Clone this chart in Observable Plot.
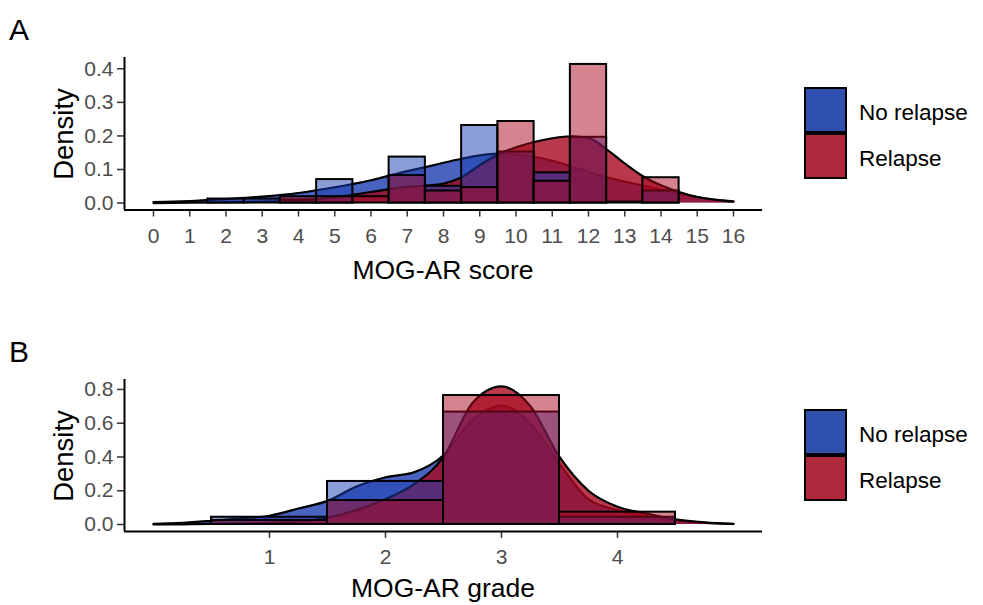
<!DOCTYPE html>
<html>
<head>
<meta charset="utf-8">
<script src="https://cdn.jsdelivr.net/npm/d3@7"></script>
<script src="https://cdn.jsdelivr.net/npm/@observablehq/plot@0.6"></script>
<style>
  body { margin: 0; background: #fff; }
  #wrap { position: relative; width: 983px; height: 605px; background: #fff; font-family: "Liberation Sans", Arial, sans-serif; }
  #wrap > svg.panel { position: absolute; left: 0; }
  #wrap > svg.panel text { font-size: 21px !important; font-family: "Liberation Sans", Arial, sans-serif; }
  #overlay { position: absolute; left: 0; top: 0; }
</style>
</head>
<body>
<div id="wrap"></div>
<script>
// ---------- DATA ----------
const groups = ["No relapse", "Relapse"];

// Panel A: MOG-AR score histogram (binwidth 1, density)
const scoreBins       = [2, 3, 4, 5, 6, 7, 8, 9, 10, 11, 12, 13, 14];
const scoreNoRelapse  = [0.012, 0.012, 0.009, 0.070, 0, 0.137, 0.050, 0.231, 0.152, 0.090, 0.196, 0, 0.036];
const scoreRelapse    = [0, 0, 0.019, 0.019, 0.019, 0.082, 0.036, 0.046, 0.243, 0.065, 0.413, 0.003, 0.0755];

// Panel A: kernel density curves
const scoreDensX          = [0, 1, 2, 3, 4, 5, 6, 7, 7.5, 8, 8.5, 9, 9.5, 10, 10.5, 11, 11.5, 12, 12.5, 13, 13.5, 14, 14.5, 15, 15.5, 16];
const scoreDensNoRelapse  = [0.003, 0.006, 0.012, 0.019, 0.030, 0.047, 0.068, 0.095, 0.107, 0.120, 0.132, 0.142, 0.147, 0.145, 0.138, 0.126, 0.110, 0.093, 0.077, 0.064, 0.052, 0.040, 0.029, 0.018, 0.009, 0.004];
const scoreDensRelapse    = [0.000, 0.001, 0.002, 0.004, 0.008, 0.017, 0.033, 0.048, 0.052, 0.058, 0.077, 0.113, 0.145, 0.166, 0.182, 0.193, 0.199, 0.194, 0.160, 0.118, 0.080, 0.053, 0.033, 0.018, 0.010, 0.005];

const scoreTicks   = [0, 1, 2, 3, 4, 5, 6, 7, 8, 9, 10, 11, 12, 13, 14, 15, 16];
const scoreYTicks  = [0, 0.1, 0.2, 0.3, 0.4];

// Panel B: MOG-AR grade histogram
const gradeBins       = [1, 2, 3, 4];
const gradeNoRelapse  = [0.043, 0.255, 0.666, 0.043];
const gradeRelapse    = [0.024, 0.142, 0.764, 0.073];

const gradeDensX          = [0, 0.25, 0.5, 0.75, 1, 1.25, 1.5, 1.75, 2, 2.25, 2.5, 2.75, 3, 3.25, 3.5, 3.75, 4, 4.25, 4.5, 4.75, 5];
const gradeDensNoRelapse  = [0.004, 0.010, 0.022, 0.036, 0.052, 0.095, 0.140, 0.225, 0.280, 0.310, 0.410, 0.620, 0.705, 0.600, 0.360, 0.150, 0.085, 0.048, 0.024, 0.010, 0.004];
const gradeDensRelapse    = [0.000, 0.001, 0.003, 0.005, 0.009, 0.018, 0.040, 0.085, 0.150, 0.240, 0.400, 0.720, 0.818, 0.700, 0.400, 0.200, 0.105, 0.065, 0.030, 0.012, 0.003];

const gradeTicks  = [1, 2, 3, 4];
const gradeYTicks = [0, 0.2, 0.4, 0.6, 0.8];

// ---------- STYLE ----------
const baseColors   = ["#1a3db0", "#a9071f"];
const legendColors = ["#3050b0", "#b0283c"];
const FONT = "Liberation Sans, Arial, sans-serif";

function expand(lo, hi) { const r = hi - lo; return [lo - 0.05 * r, hi + 0.05 * r]; }

function panel({bins, noRel, rel, densX, densNo, densRel, xRange, yMax, xTicks, yTicks, height, marginTop, marginBottom}) {
  const xDomain = expand(xRange[0], xRange[1]);
  const yDomain = expand(0, yMax);
  const hist = (vals) => bins.map((b, i) => ({x1: b - 0.5, x2: b + 0.5, y: vals[i]}));
  const dens = (vals) => densX.map((x, i) => ({x, y: vals[i]}));
  const svg = Plot.plot({
    width: 983, height,
    marginLeft: 124, marginRight: 221, marginTop, marginBottom,
    style: {fontFamily: FONT, fontSize: "21px", background: "transparent", overflow: "visible"},
    x: {domain: xDomain},
    y: {domain: yDomain},
    marks: [
      Plot.area(dens(densNo),  {x1: "x", y1: 0, y2: "y", fill: baseColors[0], fillOpacity: 0.8, curve: "monotone-x"}),
      Plot.line(dens(densNo),  {x: "x", y: "y", stroke: "black", strokeWidth: 2.2, curve: "monotone-x"}),
      Plot.area(dens(densRel), {x1: "x", y1: 0, y2: "y", fill: baseColors[1], fillOpacity: 0.8, curve: "monotone-x"}),
      Plot.line(dens(densRel), {x: "x", y: "y", stroke: "black", strokeWidth: 2.2, curve: "monotone-x"}),
      Plot.rect(hist(noRel), {x1: "x1", x2: "x2", y1: 0, y2: "y", fill: baseColors[0], fillOpacity: 0.5, stroke: "black", strokeWidth: 2}),
      Plot.rect(hist(rel),   {x1: "x1", x2: "x2", y1: 0, y2: "y", fill: baseColors[1], fillOpacity: 0.5, stroke: "black", strokeWidth: 2}),
      Plot.axisX(xTicks, {tickSize: 7, tickPadding: 11, color: "#4d4d4d", stroke: "#333", strokeWidth: 1.5, fontSize: 21, tickFormat: d3.format("d"), label: null}),
      Plot.axisY(yTicks, {tickSize: 7, tickPadding: 4, color: "#4d4d4d", stroke: "#333", strokeWidth: 1.5, fontSize: 21, tickFormat: d3.format(".1f"), label: null}),
      Plot.ruleX([xDomain[0]], {y1: yDomain[0], y2: yDomain[1], stroke: "black", strokeWidth: 2}),
      Plot.ruleY([yDomain[0]], {x1: xDomain[0], x2: xDomain[1], stroke: "black", strokeWidth: 2})
    ]
  });
  svg.classList.add("panel");
  return svg;
}

const wrap = document.getElementById("wrap");

const svgA = panel({
  bins: scoreBins, noRel: scoreNoRelapse, rel: scoreRelapse,
  densX: scoreDensX, densNo: scoreDensNoRelapse, densRel: scoreDensRelapse,
  xRange: [0, 16], yMax: 0.413, xTicks: scoreTicks, yTicks: scoreYTicks,
  height: 300, marginTop: 57, marginBottom: 90.5
});
svgA.style.top = "0px";
wrap.appendChild(svgA);

const svgB = panel({
  bins: gradeBins, noRel: gradeNoRelapse, rel: gradeRelapse,
  densX: gradeDensX, densNo: gradeDensNoRelapse, densRel: gradeDensRelapse,
  xRange: [0, 5], yMax: 0.818, xTicks: gradeTicks, yTicks: gradeYTicks,
  height: 305, marginTop: 79, marginBottom: 74.1
});
svgB.style.top = "300px";
wrap.appendChild(svgB);

// ---------- overlay text and legends ----------
const NS = "http://www.w3.org/2000/svg";
const ov = document.createElementNS(NS, "svg");
ov.setAttribute("id", "overlay");
ov.setAttribute("width", 983);
ov.setAttribute("height", 605);
ov.style.fontFamily = FONT;
wrap.appendChild(ov);

function txt(s, x, y, size, opts = {}) {
  const t = document.createElementNS(NS, "text");
  t.textContent = s;
  t.setAttribute("x", x); t.setAttribute("y", y);
  t.setAttribute("font-size", size);
  t.setAttribute("fill", opts.fill || "black");
  if (opts.anchor) t.setAttribute("text-anchor", opts.anchor);
  if (opts.rotate) t.setAttribute("transform", `rotate(-90 ${x} ${y})`);
  ov.appendChild(t);
}
function rect(x, y, w, h, fill) {
  const r = document.createElementNS(NS, "rect");
  r.setAttribute("x", x); r.setAttribute("y", y);
  r.setAttribute("width", w); r.setAttribute("height", h);
  r.setAttribute("fill", fill); r.setAttribute("stroke", "black"); r.setAttribute("stroke-width", 2);
  ov.appendChild(r);
}

const panels = [
  {letter: "A", xTitle: "MOG-AR score", off: 0, titleY: 279},
  {letter: "B", xTitle: "MOG-AR grade", off: 322, titleY: 597}
];
panels.forEach(p => {
  txt(p.letter, 9, 40 + p.off, 30);
  txt("Density", 73, 134 + p.off, 27.5, {anchor: "middle", rotate: true});
  txt(p.xTitle, 443, p.titleY, 26.5, {anchor: "middle"});
  groups.forEach((g, i) => {
    rect(805, 88 + p.off + i * 46, 41, 44, legendColors[i]);
    txt(g, 859, 120 + p.off + i * 46, 22.5);
  });
});
</script>
</body>
</html>
